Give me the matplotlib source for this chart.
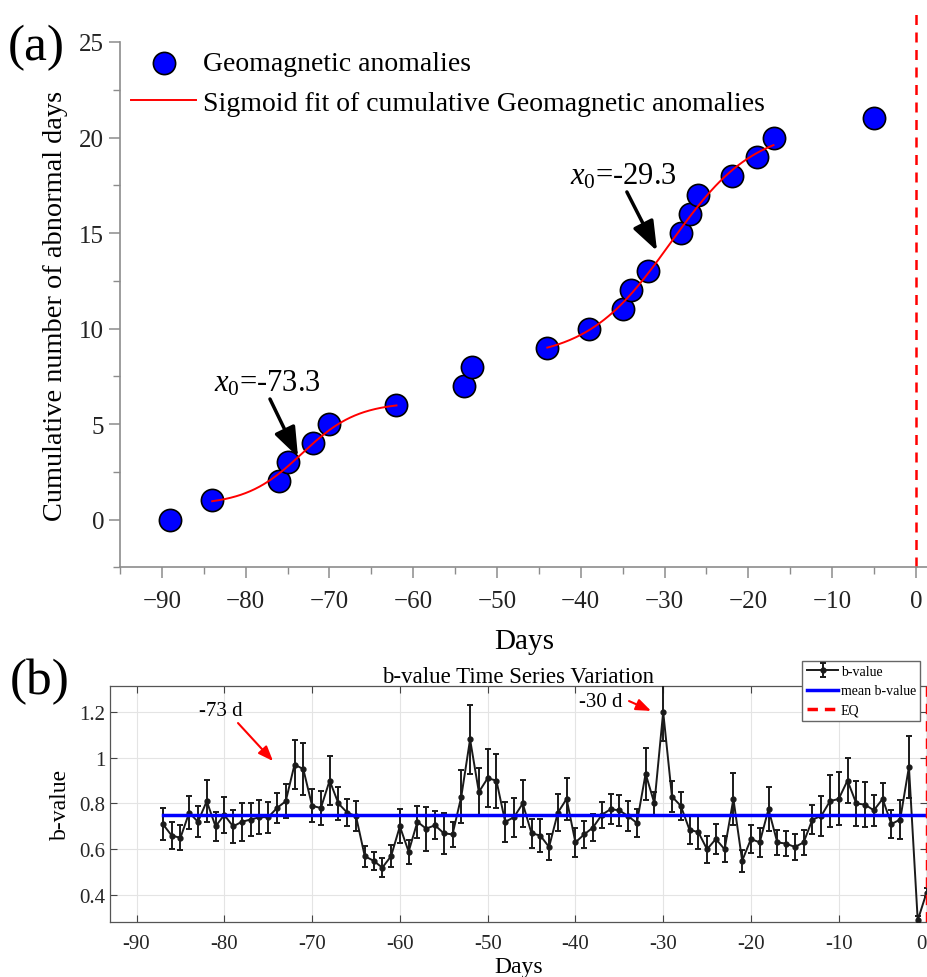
import numpy as np
import matplotlib
matplotlib.use("Agg")
import matplotlib.pyplot as plt
from matplotlib.ticker import MultipleLocator

plt.rcParams["font.family"] = ["Liberation Serif", "DejaVu Serif"]
plt.rcParams["mathtext.fontset"] = "custom"
plt.rcParams["mathtext.rm"] = "Liberation Serif"
plt.rcParams["mathtext.it"] = "Liberation Serif:italic"

# ---- panel (a): cumulative geomagnetic anomaly days ----
anom_days = [-89, -84, -76, -75, -72, -70, -62, -54, -53, -44, -39, -35, -34, -32,
             -28, -27, -26, -22, -19, -17, -5]
anom_cum = [0, 1, 2, 3, 4, 5, 6, 7, 8, 9, 10, 11, 12, 13, 15, 16, 17, 18, 19, 20, 21]

# sigmoid fits: (x start, x end, base, amplitude, slope, x0)
fit1 = (-84, -62, 0.75, 5.4, 0.30, -73.3)
fit2 = (-44, -17, 8.39, 12.17, 0.20, -29.3)

# ---- panel (b): b-value series ----
b_days = list(range(-87, 1))
b_val = [0.71, 0.66, 0.65, 0.76, 0.72, 0.81, 0.70, 0.75, 0.70, 0.72,
         0.73, 0.74, 0.74, 0.78, 0.81, 0.97, 0.95, 0.79, 0.78, 0.90,
         0.80, 0.76, 0.745, 0.57, 0.55, 0.52, 0.57, 0.70, 0.59, 0.72,
         0.69, 0.705, 0.67, 0.665, 0.83, 1.08, 0.85, 0.91, 0.90, 0.72,
         0.74, 0.80, 0.67, 0.66, 0.61, 0.76, 0.82, 0.63, 0.665, 0.695,
         0.75, 0.775, 0.77, 0.745, 0.715, 0.93, 0.80, 1.20, 0.83, 0.79,
         0.685, 0.675, 0.60, 0.645, 0.60, 0.82, 0.55, 0.645, 0.63, 0.775,
         0.63, 0.625, 0.61, 0.63, 0.73, 0.745, 0.81, 0.82, 0.90, 0.80,
         0.795, 0.77, 0.82, 0.71, 0.73, 0.96, 0.29, 0.41]
b_err = [0.070, 0.058, 0.055, 0.071, 0.067, 0.092, 0.063, 0.079, 0.073, 0.084,
         0.073, 0.073, 0.068, 0.067, 0.073, 0.109, 0.113, 0.071, 0.073, 0.106,
         0.073, 0.058, 0.065, 0.046, 0.040, 0.041, 0.047, 0.074, 0.052, 0.071,
         0.096, 0.060, 0.090, 0.055, 0.114, 0.150, 0.106, 0.126, 0.118, 0.086,
         0.085, 0.104, 0.064, 0.071, 0.055, 0.081, 0.093, 0.065, 0.058, 0.058,
         0.058, 0.065, 0.069, 0.065, 0.062, 0.114, 0.051, 0.127, 0.067, 0.062,
         0.062, 0.073, 0.060, 0.065, 0.057, 0.112, 0.049, 0.060, 0.062, 0.096,
         0.056, 0.056, 0.057, 0.055, 0.062, 0.089, 0.113, 0.116, 0.098, 0.100,
         0.097, 0.069, 0.069, 0.060, 0.085, 0.135, 0.020, 0.020]
b_mean = 0.75

W, H = 928, 978
fig = plt.figure(figsize=(W / 100, H / 100), dpi=100)


def box(l, t, r, b):
    return [l / W, 1 - b / H, (r - l) / W, (b - t) / H]


def arrow(axis, tail, tip, color, lw, scale, hl, hw):
    axis.annotate("", xy=tip, xytext=tail,
                  arrowprops=dict(arrowstyle=f"-|>,head_length={hl},head_width={hw}",
                                  color=color, lw=lw, shrinkA=0, shrinkB=0,
                                  mutation_scale=scale))


# ================= (a) =================
ax = fig.add_axes(box(120, 43, 928.5, 568.3))
ax.set_xlim(-95, 1.5)
ax.set_ylim(-2.5, 25)

sc = ax.scatter(anom_days, anom_cum, s=16 ** 2, c="#0000ff", edgecolors="black",
                linewidths=1.2, zorder=2)
for x_a, x_b, base, amp, k, x0 in (fit1, fit2):
    xs = np.linspace(x_a, x_b, 200)
    fl, = ax.plot(xs, base + amp / (1 + np.exp(-k * (xs - x0))), color="red", lw=1.4, zorder=3)
ax.plot([0, 0], [-2.5, 26.7], color="red", ls=(0, (4, 3)), lw=1.8, clip_on=False, zorder=1)

for sp in ("top", "right"):
    ax.spines[sp].set_visible(False)
for sp in ("left", "bottom"):
    ax.spines[sp].set_color("#8c8c8c")
    ax.spines[sp].set_linewidth(1.2)
ax.set_xticks(range(-90, 1, 10))
ax.set_yticks(range(0, 26, 5))
ax.xaxis.set_minor_locator(MultipleLocator(5))
ax.yaxis.set_minor_locator(MultipleLocator(2.5))
ax.tick_params(which="major", direction="out", length=8, width=1.1, color="#8c8c8c",
               labelsize=18, labelcolor="#222222")
ax.tick_params(axis="x", which="major", pad=8)
ax.tick_params(which="minor", direction="out", length=5, width=1.0, color="#8c8c8c")
ax.set_xlabel("Days", fontsize=21, labelpad=12)
ax.set_ylabel("Cumulative number of abnormal days", fontsize=20.4)
ax.yaxis.set_label_coords(-52 / 808.5, 0.5)

ax.legend([sc, fl], ["Geomagnetic anomalies", "Sigmoid fit of cumulative Geomagnetic anomalies"],
          loc="upper left", bbox_to_anchor=(131 / W, 1 - 52 / H), bbox_transform=fig.transFigure,
          frameon=False, fontsize=20, handlelength=2.35, handletextpad=0.25,
          labelspacing=0.5, borderpad=0, borderaxespad=0, markerscale=1.0)

ax.text(-77.45, 6.74, r"$x_{\mathit{0}}$=-73.3", fontsize=22, ha="center", va="baseline")
arrow(ax, (-77.1, 6.31), (-73.75, 3.27), "black", 2.5, 15, 1.2, 0.45)
ax.text(-34.9, 17.57, r"$x_{\mathit{0}}$=-29.3", fontsize=22, ha="center", va="baseline")
arrow(ax, (-34.5, 17.15), (-30.9, 14.06), "black", 2.5, 15, 1.2, 0.45)

# ================= (b) =================
bx = fig.add_axes(box(110.2, 686.7, 926.5, 922.7))
bx.set_xlim(-93, 0)
bx.set_ylim(0.284, 1.314)
bx.grid(True, color="#e4e4e4", lw=0.8)
bx.set_axisbelow(True)

eb = bx.errorbar(b_days, b_val, yerr=b_err, color="#1a1a1a", lw=1.4, elinewidth=1.4,
                 capsize=2.2, capthick=1.4, marker="o", ms=3.5, zorder=3)
ml, = bx.plot([b_days[0], 0], [b_mean, b_mean], color="#0000ff", lw=2.5, zorder=4)
eq = bx.axvline(0, color="red", ls=(0, (3, 2)), lw=2.5, zorder=5)

xt = list(range(-90, 1, 10))
bx.set_xticks(xt, [str(v) for v in xt])
yt = [0.4, 0.6, 0.8, 1.0, 1.2]
bx.set_yticks(yt, ["0.4", "0.6", "0.8", "1", "1.2"])
bx.tick_params(direction="in", top=True, right=True, length=5, width=0.8,
               color="#444444", labelsize=15, labelcolor="#262626")
bx.tick_params(axis="x", pad=9)
bx.get_xticklabels()[-1].set_horizontalalignment("right")
for sp in bx.spines.values():
    sp.set_color("#555555")
    sp.set_linewidth(0.9)
bx.set_xlabel("Days", fontsize=17, labelpad=2)
bx.set_ylabel("b-value", fontsize=17, labelpad=6)
bx.set_title("b-value Time Series Variation", fontsize=16.5, pad=3)

bx.text(-80.38, 1.204, "-73 d", fontsize=15, ha="center", va="center")
arrow(bx, (-78.44, 1.151), (-74.45, 0.985), "red", 1.5, 10, 0.9, 0.35)
bx.text(-37.08, 1.243, "-30 d", fontsize=15, ha="center", va="center")
arrow(bx, (-33.89, 1.247), (-31.38, 1.204), "red", 1.5, 10, 0.9, 0.35)

leg = bx.legend([eb, ml, eq], ["b-value", "mean b-value", "EQ"], loc="upper right",
                bbox_to_anchor=(920 / W, 1 - 662 / H), bbox_transform=fig.transFigure,
                borderaxespad=0, fontsize=10, framealpha=1, fancybox=False,
                edgecolor="#666666", handlelength=2.3, borderpad=0.3,
                labelspacing=0.45, handletextpad=0.15)
leg.set_zorder(10)

fig.text(8 / W, 1 - 48 / H, "(a)", fontsize=37, va="center", ha="left")
fig.text(10 / W, 1 - 682 / H, "(b)", fontsize=37, va="center", ha="left")

fig.savefig("out.png", dpi=100)
